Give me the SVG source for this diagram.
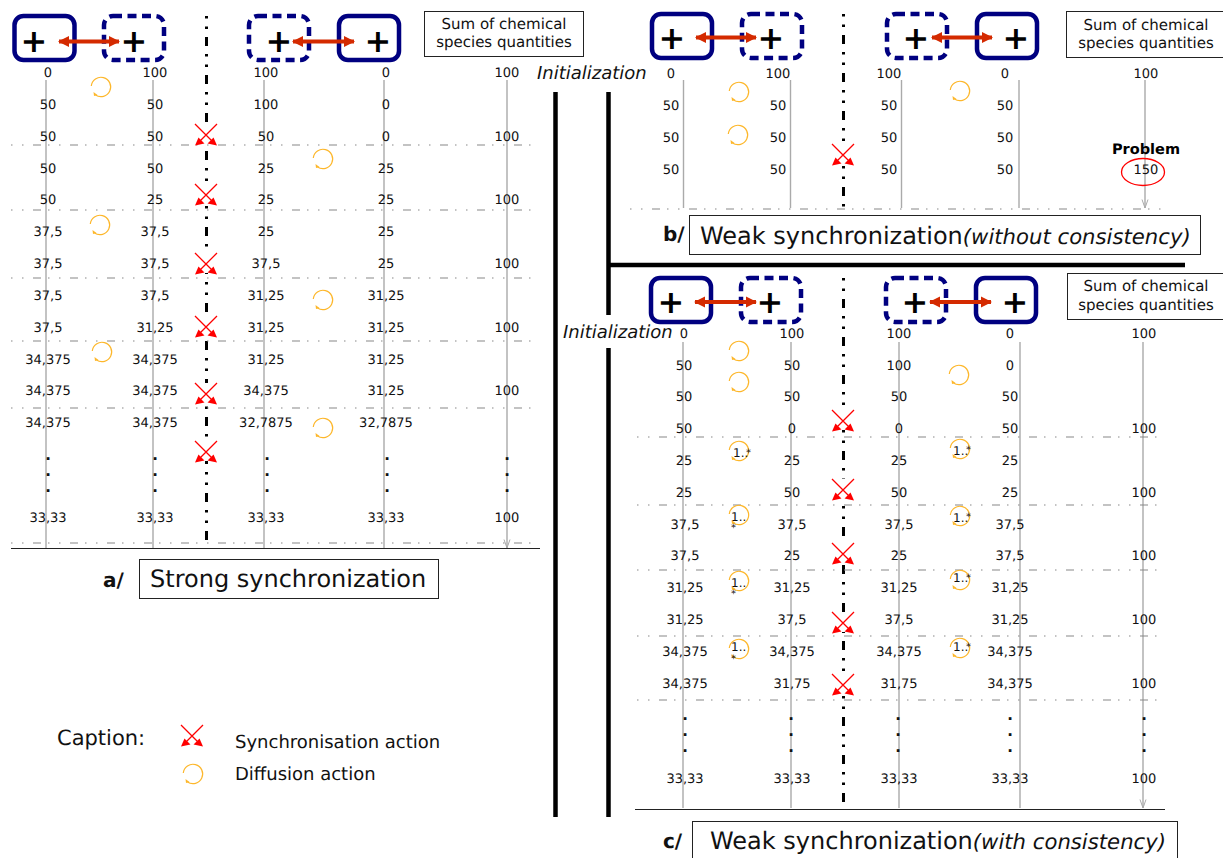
<svg xmlns="http://www.w3.org/2000/svg" xmlns:xlink="http://www.w3.org/1999/xlink" width="1223" height="858" viewBox="0 0 1223 858">
<style>
text{font-family:"DejaVu Sans",sans-serif;fill:#111;text-rendering:geometricPrecision}
.v text{font-size:13px;text-anchor:middle}
.v text.dt{font-size:15px;font-weight:bold}
.ax{stroke:#aaa;stroke-width:1.4;fill:none;marker-end:url(#ah)}
.hl{stroke:#888;stroke-width:1.1;fill:none;stroke-dasharray:1.500 9.500 1.500 9.500 8 7}
.cl{stroke:#000;stroke-width:3;fill:none;stroke-dasharray:2.5 8 2.5 8 9 8}
.sol{fill:#fff;stroke:#000080;stroke-width:4.5}
.das{fill:#fff;stroke:#000080;stroke-width:4.5;stroke-dasharray:9 5.5}
.p{font-size:32px;font-weight:bold;text-anchor:middle;fill:#000}
.da{stroke:#d42a00;stroke-width:4;fill:none;marker-start:url(#rs);marker-end:url(#re)}
.tb{fill:#fff;stroke:#222;stroke-width:1}
.sum{font-size:15px;text-anchor:middle}
.tt{font-size:24px}
.it{font-size:21.2px;font-style:italic}
.lb{font-size:20px;font-weight:bold}
.in{font-size:18px;font-style:italic}
.th{stroke:#000;stroke-width:4.5;fill:none}
.m{font-size:12px}
.s{font-size:10px}
</style>
<defs>
<marker id="ah" viewBox="0 0 8 10" refX="4" refY="9.5" markerWidth="8" markerHeight="10" markerUnits="userSpaceOnUse" orient="0"><path d="M1 1L4 9.5L7 1" fill="none" stroke="#aaa" stroke-width="1"/></marker>
<marker id="re" viewBox="0 0 12 12" refX="10" refY="6" markerWidth="12" markerHeight="12" markerUnits="userSpaceOnUse" orient="auto"><path d="M0 0.5L11 6L0 11.5Z" fill="#d42a00"/></marker>
<marker id="rs" viewBox="0 0 12 12" refX="2" refY="6" markerWidth="12" markerHeight="12" markerUnits="userSpaceOnUse" orient="auto"><path d="M12 0.5L1 6L12 11.5Z" fill="#d42a00"/></marker>
<g id="x"><rect x="-4" y="-11" width="8" height="20" fill="#fff"/><path d="M-11-11L7 7M11-11L-7 7" stroke="#f00" stroke-width="1.3" fill="none"/><path d="M11 10.5L1.5 8.5L7.5 2.5ZM-11 10.5L-1.5 8.5L-7.5 2.5Z" fill="#f00"/></g>
<g id="d"><path d="M-9.7-1A9.7 9.7 0 1 1 -5.5 8" stroke="#fdb72b" stroke-width="1.2" fill="none"/><path d="M-7 9L-7.5 5L-3.5 8Z" fill="#fdb72b"/></g>
</defs>

<g id="structure">
<path class="th" d="M555.500 92V817"/>
<path class="th" d="M608.500 92V315M608.500 348V817"/>
<path class="th" d="M608 265H1185"/>
<path d="M11 548.500H540M635 809.500H1165" stroke="#222" stroke-width="1" fill="none"/>
<path class="cl" d="M206.500 16V548"/>
<path class="cl" d="M843.500 14V208"/>
<path class="cl" d="M843.500 278V808"/>
</g>

<g id="connectors">
<path class="ax" d="M46 80V548M153 80V548M264 80V548M384 80V548M507 80V548"/>
<path class="ax" d="M683.500 80V208M790.500 80V208M901.500 80V208M1019 80V208M1145 80V208"/>
<path class="ax" d="M683 342V808M791 342V808M899 342V808M1020 342V808M1143 342V808"/>
<path class="hl" d="M11 145H533M11 210H533M11 278H533M11 341H533M11 408H533M11 543H533"/>
<path class="hl" d="M630 209H1165"/>
<path class="hl" d="M637 437H1160M637 505H1160M637 570H1160M637 636H1160M637 700H1160"/>
</g>

<g id="a-n1"><rect class="sol" x="14.500" y="16" width="60" height="44" rx="9"/><text class="p" x="34" y="52">+</text></g>
<g id="a-n2"><rect class="das" x="104" y="16" width="60" height="44" rx="9"/><text class="p" x="134" y="52">+</text></g>
<g id="a-n3"><rect class="das" x="249" y="16" width="60" height="44" rx="9"/><text class="p" x="279" y="52">+</text></g>
<g id="a-n4"><rect class="sol" x="339" y="16" width="60" height="44" rx="9"/><text class="p" x="378" y="52">+</text></g>
<g id="b-n1"><rect class="sol" x="652" y="14" width="60" height="44" rx="9"/><text class="p" x="672" y="49">+</text></g>
<g id="b-n2"><rect class="das" x="742" y="14" width="60" height="44" rx="9"/><text class="p" x="771" y="49">+</text></g>
<g id="b-n3"><rect class="das" x="887" y="14" width="60" height="44" rx="9"/><text class="p" x="916" y="49">+</text></g>
<g id="b-n4"><rect class="sol" x="977" y="14" width="60" height="44" rx="9"/><text class="p" x="1016" y="49">+</text></g>
<g id="c-n1"><rect class="sol" x="651" y="278" width="60" height="44" rx="9"/><text class="p" x="671" y="313">+</text></g>
<g id="c-n2"><rect class="das" x="741" y="278" width="60" height="44" rx="9"/><text class="p" x="770" y="313">+</text></g>
<g id="c-n3"><rect class="das" x="886" y="278" width="60" height="44" rx="9"/><text class="p" x="915" y="313">+</text></g>
<g id="c-n4"><rect class="sol" x="976" y="278" width="60" height="44" rx="9"/><text class="p" x="1015" y="313">+</text></g>

<g id="double-arrows">
<path class="da" d="M59 41.500H119"/><path class="da" d="M293 41.500H354"/>
<path class="da" d="M696 37.500H756"/><path class="da" d="M932 37.500H992"/>
<path class="da" d="M695 302H756"/><path class="da" d="M930 302H991"/>
</g>

<g id="a-sum"><rect class="tb" x="424.500" y="11.500" width="159" height="45"/><text class="sum" x="504" y="29">Sum of chemical</text><text class="sum" x="504" y="47">species quantities</text></g>
<g id="b-sum"><rect class="tb" x="1066.500" y="11.500" width="157" height="46"/><text class="sum" x="1146" y="30">Sum of chemical</text><text class="sum" x="1146" y="48">species quantities</text></g>
<g id="c-sum"><rect class="tb" x="1067.500" y="273.500" width="156" height="46"/><text class="sum" x="1146" y="291">Sum of chemical</text><text class="sum" x="1146" y="310">species quantities</text></g>

<g id="titles">
<rect class="tb" x="139.500" y="559.500" width="299" height="39"/>
<text class="lb" x="103" y="587">a/</text><text class="tt" x="150" y="587">Strong synchronization</text>
<rect class="tb" x="689.500" y="215.500" width="511" height="39"/>
<text class="lb" x="663" y="241">b/</text><text class="tt" x="700" y="244">Weak synchronization<tspan class="it">(without consistency)</tspan></text>
<rect class="tb" x="692.500" y="821.500" width="485" height="37"/>
<text class="lb" x="663" y="848">c/</text><text class="tt" x="710" y="849">Weak synchronization<tspan class="it">(with consistency)</tspan></text>
<text class="in" x="537" y="79">Initialization</text>
<text class="in" x="563" y="338">Initialization</text>
</g>

<g id="a-values" class="v">
<text x="48" y="77">0</text><text x="155" y="77">100</text><text x="266" y="77">100</text><text x="386" y="77">0</text><text x="507" y="77">100</text>
<text x="48" y="109">50</text><text x="155" y="109">50</text><text x="266" y="109">100</text><text x="386" y="109">0</text>
<text x="48" y="141">50</text><text x="155" y="141">50</text><text x="266" y="141">50</text><text x="386" y="141">0</text><text x="507" y="141">100</text>
<text x="48" y="173">50</text><text x="155" y="173">50</text><text x="266" y="173">25</text><text x="386" y="173">25</text>
<text x="48" y="204">50</text><text x="155" y="204">25</text><text x="266" y="204">25</text><text x="386" y="204">25</text><text x="507" y="204">100</text>
<text x="48" y="236">37,5</text><text x="155" y="236">37,5</text><text x="266" y="236">25</text><text x="386" y="236">25</text>
<text x="48" y="268">37,5</text><text x="155" y="268">37,5</text><text x="266" y="268">37,5</text><text x="386" y="268">25</text><text x="507" y="268">100</text>
<text x="48" y="300">37,5</text><text x="155" y="300">37,5</text><text x="266" y="300">31,25</text><text x="386" y="300">31,25</text>
<text x="48" y="332">37,5</text><text x="155" y="332">31,25</text><text x="266" y="332">31,25</text><text x="386" y="332">31,25</text><text x="507" y="332">100</text>
<text x="48" y="364">34,375</text><text x="155" y="364">34,375</text><text x="266" y="364">31,25</text><text x="386" y="364">31,25</text>
<text x="48" y="395">34,375</text><text x="155" y="395">34,375</text><text x="266" y="395">34,375</text><text x="386" y="395">31,25</text><text x="507" y="395">100</text>
<text x="48" y="427">34,375</text><text x="155" y="427">34,375</text><text x="266" y="427">32,7875</text><text x="386" y="427">32,7875</text>
<text class="dt" x="48" y="460">.</text><text class="dt" x="155" y="460">.</text><text class="dt" x="267" y="460">.</text><text class="dt" x="387" y="460">.</text><text class="dt" x="507" y="460">.</text>
<text class="dt" x="48" y="476">.</text><text class="dt" x="155" y="476">.</text><text class="dt" x="267" y="476">.</text><text class="dt" x="387" y="476">.</text><text class="dt" x="507" y="476">.</text>
<text class="dt" x="48" y="492">.</text><text class="dt" x="155" y="492">.</text><text class="dt" x="267" y="492">.</text><text class="dt" x="387" y="492">.</text><text class="dt" x="507" y="492">.</text>
<text x="48" y="522">33,33</text><text x="155" y="522">33,33</text><text x="266" y="522">33,33</text><text x="386" y="522">33,33</text><text x="507" y="522">100</text>
</g>

<g id="b-values" class="v">
<text x="671" y="78">0</text><text x="778" y="78">100</text><text x="889" y="78">100</text><text x="1005" y="78">0</text><text x="1146" y="78">100</text>
<text x="671" y="110">50</text><text x="778" y="110">50</text><text x="889" y="110">50</text><text x="1005" y="110">50</text>
<text x="671" y="142">50</text><text x="778" y="142">50</text><text x="889" y="142">50</text><text x="1005" y="142">50</text>
<text x="671" y="174">50</text><text x="778" y="174">50</text><text x="889" y="174">50</text><text x="1005" y="174">50</text><text x="1146" y="174">150</text>
<text x="1146" y="154" style="font-weight:bold;font-size:14.500px;fill:#000">Problem</text>
</g>
<ellipse id="problem-mark" cx="1143" cy="172" rx="21.500" ry="13.500" fill="none" stroke="#f00" stroke-width="1.300"/>

<g id="c-values" class="v">
<text x="684" y="338">0</text><text x="792" y="338">100</text><text x="899" y="338">100</text><text x="1010" y="338">0</text><text x="1144" y="338">100</text>
<text x="684" y="370">50</text><text x="792" y="370">50</text><text x="899" y="370">100</text><text x="1010" y="370">0</text>
<text x="684" y="401">50</text><text x="792" y="401">50</text><text x="899" y="401">50</text><text x="1010" y="401">50</text>
<text x="684" y="433">50</text><text x="792" y="433">0</text><text x="899" y="433">0</text><text x="1010" y="433">50</text><text x="1144" y="433">100</text>
<text x="684" y="465">25</text><text x="792" y="465">25</text><text x="899" y="465">25</text><text x="1010" y="465">25</text>
<text x="684" y="497">25</text><text x="792" y="497">50</text><text x="899" y="497">50</text><text x="1010" y="497">25</text><text x="1144" y="497">100</text>
<text x="685" y="529">37,5</text><text x="792" y="529">37,5</text><text x="899" y="529">37,5</text><text x="1010" y="529">37,5</text>
<text x="685" y="560">37,5</text><text x="792" y="560">25</text><text x="899" y="560">25</text><text x="1010" y="560">37,5</text><text x="1144" y="560">100</text>
<text x="685" y="592">31,25</text><text x="792" y="592">31,25</text><text x="899" y="592">31,25</text><text x="1010" y="592">31,25</text>
<text x="685" y="624">31,25</text><text x="792" y="624">37,5</text><text x="899" y="624">37,5</text><text x="1010" y="624">31,25</text><text x="1144" y="624">100</text>
<text x="685" y="656">34,375</text><text x="792" y="656">34,375</text><text x="899" y="656">34,375</text><text x="1010" y="656">34,375</text>
<text x="685" y="688">34,375</text><text x="792" y="688">31,75</text><text x="899" y="688">31,75</text><text x="1010" y="688">34,375</text><text x="1144" y="688">100</text>
<text class="dt" x="685" y="720">.</text><text class="dt" x="791" y="720">.</text><text class="dt" x="898" y="720">.</text><text class="dt" x="1010" y="720">.</text><text class="dt" x="1144" y="720">.</text>
<text class="dt" x="685" y="736">.</text><text class="dt" x="791" y="736">.</text><text class="dt" x="898" y="736">.</text><text class="dt" x="1010" y="736">.</text><text class="dt" x="1144" y="736">.</text>
<text class="dt" x="685" y="752">.</text><text class="dt" x="791" y="752">.</text><text class="dt" x="898" y="752">.</text><text class="dt" x="1010" y="752">.</text><text class="dt" x="1144" y="752">.</text>
<text x="685" y="783">33,33</text><text x="792" y="783">33,33</text><text x="899" y="783">33,33</text><text x="1010" y="783">33,33</text><text x="1144" y="783">100</text>
</g>

<g id="sync-actions">
<use href="#x" x="206" y="135"/><use href="#x" x="206" y="195"/><use href="#x" x="206" y="264"/><use href="#x" x="206" y="327"/><use href="#x" x="206" y="394"/><use href="#x" x="206" y="452"/>
<use href="#x" x="843" y="155"/>
<use href="#x" x="843" y="421"/><use href="#x" x="843" y="490"/><use href="#x" x="843" y="554"/><use href="#x" x="843" y="623"/><use href="#x" x="843" y="685"/>
<use href="#x" x="192" y="736"/>
</g>

<g id="diffusion-actions">
<use href="#d" x="101" y="87"/><use href="#d" x="323" y="159"/><use href="#d" x="100" y="225"/><use href="#d" x="323" y="300"/><use href="#d" x="102" y="352"/><use href="#d" x="323" y="428"/>
<use href="#d" x="739" y="92"/><use href="#d" x="738" y="135"/><use href="#d" x="960" y="91"/>
<use href="#d" x="739" y="351"/><use href="#d" x="739" y="382"/><use href="#d" x="959" y="375"/>
<use href="#d" x="739" y="451"/><use href="#d" x="960" y="449"/><use href="#d" x="739" y="515"/><use href="#d" x="960" y="516"/><use href="#d" x="739" y="581"/><use href="#d" x="960" y="580"/><use href="#d" x="739" y="649"/><use href="#d" x="960" y="648"/>
<use href="#d" x="193" y="774"/>
</g>

<g id="multiplicities">
<text class="m" x="733" y="457">1..</text><text class="s" x="746" y="456">*</text>
<text class="m" x="953" y="455">1..</text><text class="s" x="966" y="453">*</text>
<text class="m" x="731" y="521">1..</text><text class="s" x="731" y="531">*</text>
<text class="m" x="953" y="522">1..</text><text class="s" x="966" y="520">*</text>
<text class="m" x="731" y="587">1..</text><text class="s" x="731" y="597">*</text>
<text class="m" x="953" y="582">1..</text><text class="s" x="966" y="581">*</text>
<text class="m" x="731" y="651">1..</text><text class="s" x="731" y="662">*</text>
<text class="m" x="953" y="651">1..</text><text class="s" x="966" y="650">*</text>
</g>

<g id="caption">
<text x="57" y="745" style="font-size:21px">Caption:</text>
<text x="235" y="748" style="font-size:18px">Synchronisation action</text>
<text x="235" y="780" style="font-size:18px">Diffusion action</text>
</g>
</svg>
